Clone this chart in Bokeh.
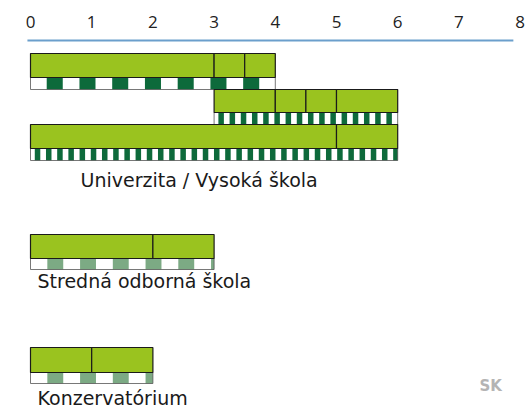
import numpy as np
from bokeh.plotting import figure
from bokeh.models import Range1d, FixedTicker
from bokeh.embed import file_html
from bokeh.resources import INLINE
from bokeh.core.properties import value

# ---- data (years of study) ----
ticks = [0, 1, 2, 3, 4, 5, 6, 7, 8]
categories = ["Univerzita / Vysoká škola", "Stredná odborná škola", "Konzervatórium"]
uni_bachelor = [0, 3, 3.5, 4]        # segment boundaries
uni_master = [3, 4, 4.5, 5, 6]
uni_long = [0, 5, 6]
sos_years = [0, 2, 3]
kons_years = [0, 1, 2]

# ---- styles / layout ----
GREEN = "#9ac31f"
DARK = "#0d6a3b"
LIGHT = "#7caa84"
PX = 61.2            # pixels per year
X0 = 30              # frame px of year 0
W, H = 530, 407
TOP = 36             # frame top (canvas px)

x_start = -X0 / PX
x_end = x_start + W / PX

p = figure(width=W, height=H, output_backend="svg", toolbar_location=None,
           x_range=Range1d(x_start, x_end), y_range=Range1d(H, TOP),
           x_axis_location="above", min_border_left=0, min_border_right=0,
           min_border_top=TOP, min_border_bottom=0)
p.outline_line_color = None
p.grid.visible = False
p.yaxis.visible = False
ax = p.xaxis[0]
ax.ticker = FixedTicker(ticks=ticks)
ax.axis_line_color = None
ax.major_tick_line_color = None
ax.minor_tick_line_color = None
ax.major_tick_out = 0
ax.major_tick_in = 0
ax.major_label_standoff = 9
ax.major_label_text_font = "Open Sans"
ax.major_label_text_font_size = "17px"
ax.major_label_text_color = "#222222"

# axis rule
p.segment(x0=[-0.05], x1=[7.89], y0=[40], y1=[40], line_color="#6b9fcc", line_width=2)

patterns = {
    "wide": (0.535, 0.265, 0.262, DARK),
    "narrow": (0.183, 0.07, 0.09, DARK),
    "light": (0.535, 0.275, 0.26, LIGHT),
}

# (boundaries, bar top, bar bottom, stripe bottom, pattern)  -- y in page px
rows = [
    (uni_bachelor, 53, 77, 89, "wide"),
    (uni_master, 89, 112, 124, "narrow"),
    (uni_long, 124, 148, 160, "narrow"),
    (sos_years, 234, 258, 269, "light"),
    (kons_years, 347, 372, 383, "light"),
]

for b, yt, yb, ys, pat in rows:
    a, e = b[0], b[-1]
    p.quad(left=[a], right=[e], top=[yb], bottom=[ys], fill_color="white",
           line_color=None)
    P, o, w, col = patterns[pat]
    starts = np.arange(a + o, e, P)
    ends = np.minimum(starts + w, e)
    p.quad(left=starts, right=ends, top=[yb] * len(starts), bottom=[ys] * len(starts),
           fill_color=col, line_color=None)
    p.quad(left=[a], right=[e], top=[yb], bottom=[ys], fill_color=None,
           line_color="#555555", line_width=0.8)
    p.quad(left=b[:-1], right=b[1:], top=[yt] * (len(b) - 1), bottom=[yb] * (len(b) - 1),
           fill_color=GREEN, line_color="#1a1a1a", line_width=1.2)

p.text(x=[50 / PX, 7 / PX, 7 / PX], y=[179, 280, 397], text=categories,
       text_font=value("DejaVu Sans"), text_font_size="19px", text_color="#1a1a1a",
       text_baseline="alphabetic", text_align="left")

p.text(x=[449 / PX], y=[385], text=["SK"], text_font=value("DejaVu Sans"),
       text_font_size="15px", text_font_style="bold", text_color="#b4b4b4",
       text_baseline="alphabetic", text_align="left")

open("out.html", "w").write(file_html(p, INLINE))
